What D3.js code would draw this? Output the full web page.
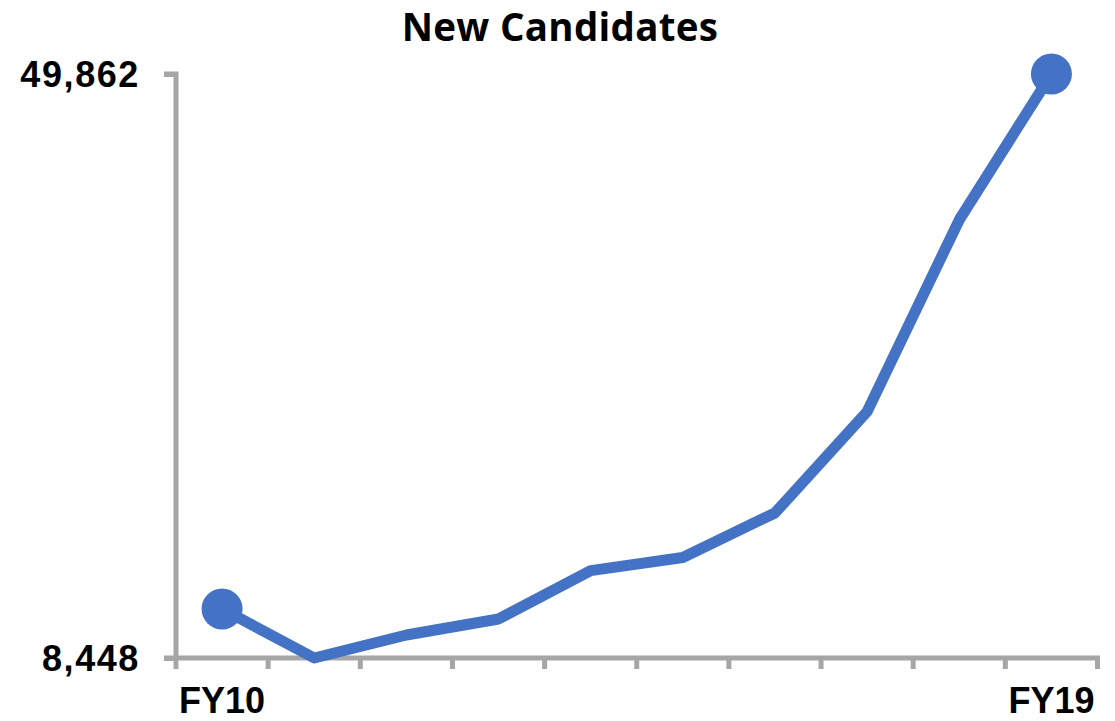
<!DOCTYPE html>
<html>
<head>
<meta charset="utf-8">
<script src="https://cdn.jsdelivr.net/npm/d3@7"></script>
<style>
  html, body { margin: 0; padding: 0; background: #ffffff; }
  svg { display: block; }
</style>
</head>
<body>
<svg id="chart" width="1115" height="721"></svg>
<script>
// Fiscal years and new candidate counts
const years = ["FY10", "FY11", "FY12", "FY13", "FY14", "FY15", "FY16", "FY17", "FY18", "FY19"];
const candidates = [11925, 8448, 10080, 11215, 14642, 15579, 18736, 25923, 39524, 49862];
const yTickValues = [8448, 49862];
const xTickLabels = ["FY10", "FY19"];
const chartTitle = "New Candidates";

const svg = d3.select("#chart");
const axisColor = "#A6A6A6";
const lineColor = "#4472C4";

const plotLeft = 176, plotRight = 1097.5, plotTop = 74, plotBottom = 658;

const x = d3.scaleBand().domain(years).range([plotLeft, plotRight]).paddingInner(0).paddingOuter(0);
const xc = d => x(d) + x.bandwidth() / 2;
const y = d3.scaleLinear().domain([8448, 49862]).range([plotBottom, plotTop]);

// Title
svg.append("text")
  .attr("x", 560)
  .attr("y", 40.5)
  .attr("text-anchor", "middle")
  .attr("font-family", "'Open Sans', Lato, sans-serif")
  .attr("font-weight", "bold")
  .attr("font-size", 38.5)
  .attr("letter-spacing", 0.3)
  .attr("fill", "#000")
  .text(chartTitle);

// Y axis: only the first and last values are labelled
const yAxis = d3.axisLeft(y)
  .tickValues(yTickValues)
  .tickFormat(d3.format(","))
  .tickSize(12)
  .tickPadding(24);

const gy = svg.append("g")
  .attr("transform", `translate(${plotLeft},0)`)
  .call(yAxis);
gy.select(".domain").attr("stroke", axisColor).attr("stroke-width", 5)
  .attr("d", `M-12,${plotTop}H0V${plotBottom}`);
gy.selectAll(".tick line").attr("stroke", axisColor).attr("stroke-width", 5);
gy.selectAll(".tick text")
  .attr("font-family", "'Liberation Sans', Arial, sans-serif")
  .attr("font-weight", "bold")
  .attr("font-size", 36)
  .attr("letter-spacing", 1.6)
  .attr("fill", "#000")
  .attr("dy", "0.36em");

// X axis: ticks at band boundaries, labels on first and last year
const boundaries = years.map(d => x(d)).concat([plotRight]);
const gx = svg.append("g");
gx.append("line")
  .attr("x1", plotLeft - 12).attr("x2", plotRight + 2.5)
  .attr("y1", plotBottom).attr("y2", plotBottom)
  .attr("stroke", axisColor).attr("stroke-width", 5);
gx.selectAll("line.tick")
  .data(boundaries)
  .join("line")
  .attr("class", "tick")
  .attr("x1", d => d).attr("x2", d => d)
  .attr("y1", plotBottom).attr("y2", plotBottom + 11)
  .attr("stroke", axisColor).attr("stroke-width", 5);
gx.selectAll("text")
  .data(xTickLabels)
  .join("text")
  .attr("x", d => xc(d))
  .attr("y", 713)
  .attr("text-anchor", "middle")
  .attr("font-family", "'Liberation Sans', Arial, sans-serif")
  .attr("font-weight", "bold")
  .attr("font-size", 36)
  .attr("fill", "#000")
  .text(d => d);

// Line
const data = years.map((yr, i) => ({ year: yr, value: candidates[i] }));
svg.append("path")
  .datum(data)
  .attr("fill", "none")
  .attr("stroke", lineColor)
  .attr("stroke-width", 11)
  .attr("stroke-linejoin", "round")
  .attr("d", d3.line().x(d => xc(d.year)).y(d => y(d.value)));

// End-point markers
svg.selectAll("circle.marker")
  .data([data[0], data[data.length - 1]])
  .join("circle")
  .attr("class", "marker")
  .attr("cx", d => xc(d.year))
  .attr("cy", d => y(d.value))
  .attr("r", 20.5)
  .attr("fill", lineColor);
</script>
</body>
</html>
